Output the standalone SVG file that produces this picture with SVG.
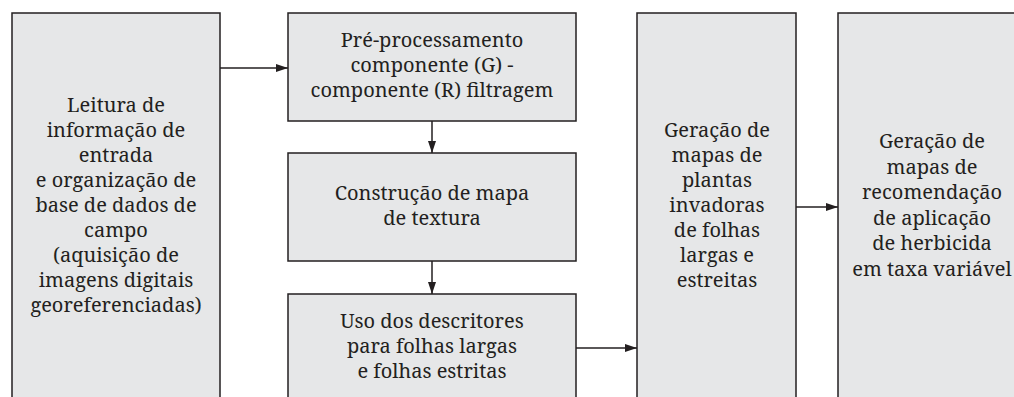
<svg xmlns="http://www.w3.org/2000/svg" width="1014" height="397" viewBox="0 0 1014 397">
<style>
.box{fill:#e6e7e8;stroke:#231f20;stroke-width:1.5}
.c{stroke:#231f20;stroke-width:1.5;fill:none}
</style>
<defs>
<marker id="ah" markerWidth="12" markerHeight="8" refX="12" refY="4" orient="auto" markerUnits="userSpaceOnUse">
<path d="M0,0 L12,4 L0,8 Z" fill="#231f20"/>
</marker>
</defs>
<rect width="1014" height="397" fill="#fff"/>
<g id="connectors">
<line class="c" x1="220" y1="68" x2="288" y2="68" marker-end="url(#ah)"/>
<line class="c" x1="432" y1="121" x2="432" y2="153" marker-end="url(#ah)"/>
<line class="c" x1="432" y1="261" x2="432" y2="294" marker-end="url(#ah)"/>
<line class="c" x1="576" y1="348" x2="637" y2="348" marker-end="url(#ah)"/>
<line class="c" x1="796" y1="207" x2="838" y2="207" marker-end="url(#ah)"/>
</g>
<g id="n1">
<rect class="box" x="12" y="13" width="208" height="400"/>
<text font-family="Noto Serif, DejaVu Serif, serif" font-size="20" fill="#231f20" text-anchor="middle"><tspan x="116" y="112">Leitura de</tspan><tspan x="116" y="137">informação de</tspan><tspan x="116" y="162">entrada</tspan><tspan x="116" y="187">e organização de</tspan><tspan x="116" y="212">base de dados de</tspan><tspan x="116" y="237">campo</tspan><tspan x="116" y="262">(aquisição de</tspan><tspan x="116" y="287">imagens digitais</tspan><tspan x="116" y="312">georeferenciadas)</tspan></text>
</g>
<g id="n2">
<rect class="box" x="288" y="13" width="288" height="108"/>
<text font-family="Noto Serif, DejaVu Serif, serif" font-size="20" fill="#231f20" text-anchor="middle"><tspan x="432" y="47">Pré-processamento</tspan><tspan x="432" y="72">componente (G) -</tspan><tspan x="432" y="97">componente (R) filtragem</tspan></text>
</g>
<g id="n3">
<rect class="box" x="288" y="153" width="288" height="108"/>
<text font-family="Noto Serif, DejaVu Serif, serif" font-size="20" fill="#231f20" text-anchor="middle"><tspan x="432" y="200">Construção de mapa</tspan><tspan x="432" y="225">de textura</tspan></text>
</g>
<g id="n4">
<rect class="box" x="288" y="294" width="288" height="120"/>
<text font-family="Noto Serif, DejaVu Serif, serif" font-size="20" fill="#231f20" text-anchor="middle"><tspan x="432" y="328">Uso dos descritores</tspan><tspan x="432" y="353">para folhas largas</tspan><tspan x="432" y="378">e folhas estritas</tspan></text>
</g>
<g id="n5">
<rect class="box" x="637" y="13" width="159" height="400"/>
<text font-family="Noto Serif, DejaVu Serif, serif" font-size="20" fill="#231f20" text-anchor="middle"><tspan x="717" y="137">Geração de</tspan><tspan x="717" y="162">mapas de</tspan><tspan x="717" y="187">plantas</tspan><tspan x="717" y="212">invadoras</tspan><tspan x="717" y="237">de folhas</tspan><tspan x="717" y="262">largas e</tspan><tspan x="717" y="287">estreitas</tspan></text>
</g>
<g id="n6">
<rect class="box" x="838" y="13" width="200" height="400"/>
<text font-family="Noto Serif, DejaVu Serif, serif" font-size="20" fill="#231f20" text-anchor="middle"><tspan x="932" y="148">Geração de</tspan><tspan x="932" y="174">mapas de</tspan><tspan x="932" y="199">recomendação</tspan><tspan x="932" y="225">de aplicação</tspan><tspan x="932" y="250">de herbicida</tspan><tspan x="932" y="276">em taxa variável</tspan></text>
</g>
</svg>
